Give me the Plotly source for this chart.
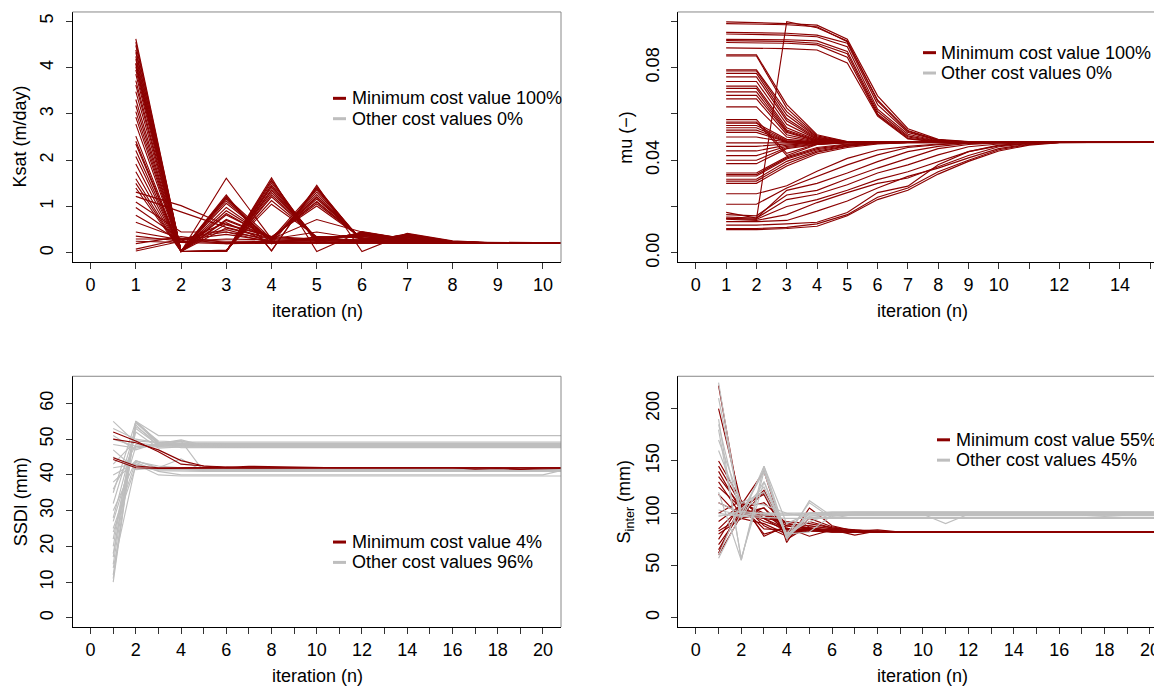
import plotly.graph_objects as go

RED = '#8B0000'
GREY = '#BEBEBE'
FONT = 'Liberation Sans, Arial, sans-serif'
FS = 18
PAGE_W, PAGE_H = 1162, 689
OFF = 8  # default body margin of the page
W, H = PAGE_W - OFF, PAGE_H - OFF

# ---------------- data ----------------
iter_11 = [1, 2, 3, 4, 5, 6, 7, 8, 9, 10, 11]
iter_16 = [1, 2, 3, 4, 5, 6, 7, 8, 9, 10, 11, 12, 13, 14, 15, 16]
iter_21 = [1, 2, 3, 4, 5, 6, 7, 8, 9, 10, 11, 12, 13, 14, 15, 16, 17, 18, 19, 20, 21]

# Ksat (m/day): every run ends on the minimum cost value
ksat_min = [
    [4.62, 0.03, 1.25, 0.04, 1.46, 0.03, 0.42, 0.26, 0.21, 0.21, 0.21],
    [4.48, 0.03, 1.22, 0.05, 1.43, 0.22, 0.41, 0.25, 0.21, 0.21, 0.21],
    [4.33, 0.03, 1.19, 0.20, 1.39, 0.24, 0.40, 0.25, 0.21, 0.21, 0.21],
    [4.18, 0.03, 1.16, 0.25, 1.36, 0.25, 0.39, 0.24, 0.21, 0.21, 0.21],
    [4.10, 0.03, 1.20, 0.30, 1.40, 0.26, 0.39, 0.24, 0.21, 0.21, 0.21],
    [4.02, 0.03, 1.12, 0.27, 1.31, 0.27, 0.38, 0.24, 0.21, 0.21, 0.21],
    [3.86, 0.03, 1.07, 0.29, 1.26, 0.28, 0.37, 0.24, 0.21, 0.21, 0.21],
    [3.62, 0.03, 0.98, 0.30, 1.21, 0.29, 0.35, 0.23, 0.21, 0.21, 0.21],
    [3.31, 0.03, 0.91, 0.31, 1.16, 0.30, 0.34, 0.23, 0.21, 0.21, 0.21],
    [2.93, 0.03, 0.82, 0.33, 1.11, 0.30, 0.33, 0.23, 0.21, 0.21, 0.21],
    [2.52, 0.03, 0.72, 0.34, 1.06, 0.31, 0.32, 0.22, 0.21, 0.21, 0.21],
    [2.35, 0.03, 0.85, 0.30, 1.20, 0.28, 0.36, 0.24, 0.21, 0.21, 0.21],
    [2.21, 0.03, 0.62, 0.35, 1.01, 0.31, 0.30, 0.22, 0.21, 0.21, 0.21],
    [1.92, 0.03, 0.54, 0.30, 0.72, 0.45, 0.30, 0.22, 0.21, 0.21, 0.21],
    [1.60, 0.03, 0.70, 0.32, 1.10, 0.30, 0.33, 0.23, 0.21, 0.21, 0.21],
    [4.55, 0.03, 0.03, 1.62, 0.03, 0.46, 0.30, 0.24, 0.21, 0.21, 0.21],
    [4.38, 0.03, 0.03, 1.58, 0.20, 0.45, 0.29, 0.23, 0.21, 0.21, 0.21],
    [4.24, 0.03, 0.03, 1.55, 0.24, 0.44, 0.28, 0.23, 0.21, 0.21, 0.21],
    [4.08, 0.03, 0.03, 1.51, 0.26, 0.43, 0.28, 0.23, 0.21, 0.21, 0.21],
    [3.95, 0.03, 0.03, 1.46, 0.28, 0.42, 0.27, 0.22, 0.21, 0.21, 0.21],
    [3.72, 0.03, 0.03, 1.41, 0.29, 0.41, 0.27, 0.22, 0.21, 0.21, 0.21],
    [3.48, 0.03, 0.03, 1.36, 0.30, 0.40, 0.26, 0.22, 0.21, 0.21, 0.21],
    [3.18, 0.03, 0.04, 1.30, 0.32, 0.38, 0.26, 0.22, 0.21, 0.21, 0.21],
    [3.05, 0.03, 0.03, 1.45, 0.30, 0.41, 0.27, 0.22, 0.21, 0.21, 0.21],
    [2.78, 0.03, 0.05, 1.21, 0.33, 0.36, 0.25, 0.22, 0.21, 0.21, 0.21],
    [2.41, 0.03, 0.05, 1.13, 0.34, 0.35, 0.25, 0.22, 0.21, 0.21, 0.21],
    [2.08, 0.03, 0.06, 1.05, 0.35, 0.33, 0.24, 0.22, 0.21, 0.21, 0.21],
    [1.75, 0.03, 0.03, 1.35, 0.30, 0.40, 0.27, 0.22, 0.21, 0.21, 0.21],
    [1.50, 0.03, 0.03, 1.25, 0.32, 0.38, 0.26, 0.22, 0.21, 0.21, 0.21],
    [1.40, 0.03, 1.61, 0.30, 0.28, 0.27, 0.25, 0.23, 0.21, 0.21, 0.21],
    [1.31, 1.02, 0.60, 0.35, 0.30, 0.28, 0.25, 0.22, 0.21, 0.21, 0.21],
    [1.22, 0.88, 0.55, 0.32, 0.30, 0.27, 0.24, 0.22, 0.21, 0.21, 0.21],
    [1.10, 0.45, 0.45, 0.30, 0.45, 0.30, 0.25, 0.22, 0.21, 0.21, 0.21],
    [0.98, 0.30, 0.50, 0.25, 0.30, 0.28, 0.24, 0.22, 0.21, 0.21, 0.21],
    [0.81, 0.25, 0.65, 0.20, 0.35, 0.25, 0.23, 0.22, 0.21, 0.21, 0.21],
    [0.66, 0.30, 0.45, 0.22, 0.30, 0.26, 0.24, 0.22, 0.21, 0.21, 0.21],
    [0.45, 0.28, 0.40, 0.25, 0.26, 0.25, 0.23, 0.22, 0.21, 0.21, 0.21],
    [0.36, 0.25, 0.30, 0.28, 0.25, 0.23, 0.22, 0.21, 0.21, 0.21, 0.21],
    [0.30, 0.30, 0.25, 0.25, 0.24, 0.23, 0.22, 0.21, 0.21, 0.21, 0.21],
    [0.20, 0.35, 0.22, 0.22, 0.22, 0.22, 0.21, 0.21, 0.21, 0.21, 0.21],
    [0.08, 0.30, 0.20, 0.22, 0.22, 0.21, 0.21, 0.21, 0.21, 0.21, 0.21],
    [0.04, 0.25, 0.22, 0.21, 0.21, 0.21, 0.21, 0.21, 0.21, 0.21, 0.21],
    [0.25, 0.22, 0.20, 0.21, 0.21, 0.21, 0.21, 0.21, 0.21, 0.21, 0.21],
]
ksat_other = []

# mu (-): every run ends on the minimum cost value
mu_min = [
    [0.0997, 0.0995, 0.0990, 0.0983, 0.0922, 0.0678, 0.0536, 0.0490, 0.0480, 0.0477, 0.0477, 0.0477, 0.0477, 0.0477, 0.0477, 0.0477],
    [0.0990, 0.0988, 0.0985, 0.0976, 0.0912, 0.0660, 0.0528, 0.0487, 0.0479, 0.0477, 0.0477, 0.0477, 0.0477, 0.0477, 0.0477, 0.0477],
    [0.0952, 0.0950, 0.0948, 0.0940, 0.0905, 0.0640, 0.0520, 0.0485, 0.0478, 0.0477, 0.0477, 0.0477, 0.0477, 0.0477, 0.0477, 0.0477],
    [0.0945, 0.0943, 0.0940, 0.0933, 0.0890, 0.0620, 0.0512, 0.0483, 0.0478, 0.0477, 0.0477, 0.0477, 0.0477, 0.0477, 0.0477, 0.0477],
    [0.0922, 0.0921, 0.0920, 0.0915, 0.0870, 0.0610, 0.0505, 0.0482, 0.0477, 0.0477, 0.0477, 0.0477, 0.0477, 0.0477, 0.0477, 0.0477],
    [0.0916, 0.0915, 0.0913, 0.0905, 0.0860, 0.0600, 0.0500, 0.0480, 0.0477, 0.0477, 0.0477, 0.0477, 0.0477, 0.0477, 0.0477, 0.0477],
    [0.0908, 0.0907, 0.0905, 0.0898, 0.0845, 0.0595, 0.0495, 0.0479, 0.0477, 0.0477, 0.0477, 0.0477, 0.0477, 0.0477, 0.0477, 0.0477],
    [0.0885, 0.0884, 0.0882, 0.0876, 0.0820, 0.0590, 0.0492, 0.0478, 0.0477, 0.0477, 0.0477, 0.0477, 0.0477, 0.0477, 0.0477, 0.0477],
    [0.0148, 0.0145, 0.0998, 0.0972, 0.0915, 0.0655, 0.0525, 0.0487, 0.0479, 0.0477, 0.0477, 0.0477, 0.0477, 0.0477, 0.0477, 0.0477],
    [0.0855, 0.0855, 0.0640, 0.0510, 0.0480, 0.0477, 0.0477, 0.0477, 0.0477, 0.0477, 0.0477, 0.0477, 0.0477, 0.0477, 0.0477, 0.0477],
    [0.0850, 0.0850, 0.0625, 0.0505, 0.0479, 0.0477, 0.0477, 0.0477, 0.0477, 0.0477, 0.0477, 0.0477, 0.0477, 0.0477, 0.0477, 0.0477],
    [0.0790, 0.0790, 0.0610, 0.0500, 0.0478, 0.0477, 0.0477, 0.0477, 0.0477, 0.0477, 0.0477, 0.0477, 0.0477, 0.0477, 0.0477, 0.0477],
    [0.0785, 0.0785, 0.0595, 0.0498, 0.0478, 0.0477, 0.0477, 0.0477, 0.0477, 0.0477, 0.0477, 0.0477, 0.0477, 0.0477, 0.0477, 0.0477],
    [0.0775, 0.0775, 0.0580, 0.0495, 0.0478, 0.0477, 0.0477, 0.0477, 0.0477, 0.0477, 0.0477, 0.0477, 0.0477, 0.0477, 0.0477, 0.0477],
    [0.0760, 0.0760, 0.0570, 0.0492, 0.0477, 0.0477, 0.0477, 0.0477, 0.0477, 0.0477, 0.0477, 0.0477, 0.0477, 0.0477, 0.0477, 0.0477],
    [0.0740, 0.0740, 0.0555, 0.0490, 0.0477, 0.0477, 0.0477, 0.0477, 0.0477, 0.0477, 0.0477, 0.0477, 0.0477, 0.0477, 0.0477, 0.0477],
    [0.0720, 0.0720, 0.0540, 0.0487, 0.0477, 0.0477, 0.0477, 0.0477, 0.0477, 0.0477, 0.0477, 0.0477, 0.0477, 0.0477, 0.0477, 0.0477],
    [0.0710, 0.0710, 0.0530, 0.0485, 0.0477, 0.0477, 0.0477, 0.0477, 0.0477, 0.0477, 0.0477, 0.0477, 0.0477, 0.0477, 0.0477, 0.0477],
    [0.0695, 0.0695, 0.0525, 0.0483, 0.0477, 0.0477, 0.0477, 0.0477, 0.0477, 0.0477, 0.0477, 0.0477, 0.0477, 0.0477, 0.0477, 0.0477],
    [0.0680, 0.0680, 0.0520, 0.0482, 0.0477, 0.0477, 0.0477, 0.0477, 0.0477, 0.0477, 0.0477, 0.0477, 0.0477, 0.0477, 0.0477, 0.0477],
    [0.0665, 0.0665, 0.0510, 0.0480, 0.0477, 0.0477, 0.0477, 0.0477, 0.0477, 0.0477, 0.0477, 0.0477, 0.0477, 0.0477, 0.0477, 0.0477],
    [0.0630, 0.0630, 0.0500, 0.0478, 0.0477, 0.0477, 0.0477, 0.0477, 0.0477, 0.0477, 0.0477, 0.0477, 0.0477, 0.0477, 0.0477, 0.0477],
    [0.0575, 0.0575, 0.0430, 0.0470, 0.0477, 0.0477, 0.0477, 0.0477, 0.0477, 0.0477, 0.0477, 0.0477, 0.0477, 0.0477, 0.0477, 0.0477],
    [0.0565, 0.0565, 0.0420, 0.0468, 0.0477, 0.0477, 0.0477, 0.0477, 0.0477, 0.0477, 0.0477, 0.0477, 0.0477, 0.0477, 0.0477, 0.0477],
    [0.0560, 0.0560, 0.0490, 0.0478, 0.0477, 0.0477, 0.0477, 0.0477, 0.0477, 0.0477, 0.0477, 0.0477, 0.0477, 0.0477, 0.0477, 0.0477],
    [0.0550, 0.0550, 0.0485, 0.0477, 0.0477, 0.0477, 0.0477, 0.0477, 0.0477, 0.0477, 0.0477, 0.0477, 0.0477, 0.0477, 0.0477, 0.0477],
    [0.0540, 0.0540, 0.0482, 0.0477, 0.0477, 0.0477, 0.0477, 0.0477, 0.0477, 0.0477, 0.0477, 0.0477, 0.0477, 0.0477, 0.0477, 0.0477],
    [0.0530, 0.0530, 0.0480, 0.0477, 0.0477, 0.0477, 0.0477, 0.0477, 0.0477, 0.0477, 0.0477, 0.0477, 0.0477, 0.0477, 0.0477, 0.0477],
    [0.0520, 0.0520, 0.0479, 0.0477, 0.0477, 0.0477, 0.0477, 0.0477, 0.0477, 0.0477, 0.0477, 0.0477, 0.0477, 0.0477, 0.0477, 0.0477],
    [0.0500, 0.0500, 0.0478, 0.0477, 0.0477, 0.0477, 0.0477, 0.0477, 0.0477, 0.0477, 0.0477, 0.0477, 0.0477, 0.0477, 0.0477, 0.0477],
    [0.0475, 0.0475, 0.0477, 0.0477, 0.0477, 0.0477, 0.0477, 0.0477, 0.0477, 0.0477, 0.0477, 0.0477, 0.0477, 0.0477, 0.0477, 0.0477],
    [0.0460, 0.0460, 0.0470, 0.0476, 0.0477, 0.0477, 0.0477, 0.0477, 0.0477, 0.0477, 0.0477, 0.0477, 0.0477, 0.0477, 0.0477, 0.0477],
    [0.0440, 0.0440, 0.0465, 0.0475, 0.0477, 0.0477, 0.0477, 0.0477, 0.0477, 0.0477, 0.0477, 0.0477, 0.0477, 0.0477, 0.0477, 0.0477],
    [0.0420, 0.0420, 0.0460, 0.0472, 0.0477, 0.0477, 0.0477, 0.0477, 0.0477, 0.0477, 0.0477, 0.0477, 0.0477, 0.0477, 0.0477, 0.0477],
    [0.0400, 0.0400, 0.0455, 0.0470, 0.0476, 0.0477, 0.0477, 0.0477, 0.0477, 0.0477, 0.0477, 0.0477, 0.0477, 0.0477, 0.0477, 0.0477],
    [0.0385, 0.0385, 0.0450, 0.0468, 0.0475, 0.0477, 0.0477, 0.0477, 0.0477, 0.0477, 0.0477, 0.0477, 0.0477, 0.0477, 0.0477, 0.0477],
    [0.0345, 0.0345, 0.0415, 0.0455, 0.0470, 0.0476, 0.0477, 0.0477, 0.0477, 0.0477, 0.0477, 0.0477, 0.0477, 0.0477, 0.0477, 0.0477],
    [0.0338, 0.0338, 0.0410, 0.0450, 0.0468, 0.0475, 0.0477, 0.0477, 0.0477, 0.0477, 0.0477, 0.0477, 0.0477, 0.0477, 0.0477, 0.0477],
    [0.0332, 0.0332, 0.0405, 0.0445, 0.0465, 0.0474, 0.0477, 0.0477, 0.0477, 0.0477, 0.0477, 0.0477, 0.0477, 0.0477, 0.0477, 0.0477],
    [0.0318, 0.0318, 0.0395, 0.0440, 0.0462, 0.0473, 0.0477, 0.0477, 0.0477, 0.0477, 0.0477, 0.0477, 0.0477, 0.0477, 0.0477, 0.0477],
    [0.0310, 0.0310, 0.0385, 0.0435, 0.0460, 0.0472, 0.0477, 0.0477, 0.0477, 0.0477, 0.0477, 0.0477, 0.0477, 0.0477, 0.0477, 0.0477],
    [0.0300, 0.0300, 0.0375, 0.0428, 0.0455, 0.0470, 0.0476, 0.0477, 0.0477, 0.0477, 0.0477, 0.0477, 0.0477, 0.0477, 0.0477, 0.0477],
    [0.0255, 0.0255, 0.0290, 0.0352, 0.0408, 0.0444, 0.0460, 0.0470, 0.0475, 0.0477, 0.0477, 0.0477, 0.0477, 0.0477, 0.0477, 0.0477],
    [0.0210, 0.0210, 0.0280, 0.0330, 0.0380, 0.0423, 0.0455, 0.0467, 0.0474, 0.0477, 0.0477, 0.0477, 0.0477, 0.0477, 0.0477, 0.0477],
    [0.0175, 0.0150, 0.0270, 0.0300, 0.0345, 0.0394, 0.0437, 0.0460, 0.0472, 0.0476, 0.0477, 0.0477, 0.0477, 0.0477, 0.0477, 0.0477],
    [0.0165, 0.0160, 0.0250, 0.0270, 0.0320, 0.0366, 0.0408, 0.0450, 0.0468, 0.0475, 0.0477, 0.0477, 0.0477, 0.0477, 0.0477, 0.0477],
    [0.0155, 0.0150, 0.0230, 0.0253, 0.0294, 0.0345, 0.0380, 0.0423, 0.0458, 0.0470, 0.0476, 0.0477, 0.0477, 0.0477, 0.0477, 0.0477],
    [0.0150, 0.0145, 0.0200, 0.0230, 0.0270, 0.0316, 0.0350, 0.0394, 0.0437, 0.0465, 0.0474, 0.0477, 0.0477, 0.0477, 0.0477, 0.0477],
    [0.0145, 0.0140, 0.0165, 0.0217, 0.0260, 0.0300, 0.0323, 0.0370, 0.0420, 0.0458, 0.0472, 0.0477, 0.0477, 0.0477, 0.0477, 0.0477],
    [0.0135, 0.0135, 0.0140, 0.0180, 0.0224, 0.0280, 0.0330, 0.0366, 0.0410, 0.0450, 0.0470, 0.0477, 0.0477, 0.0477, 0.0477, 0.0477],
    [0.0120, 0.0120, 0.0125, 0.0132, 0.0174, 0.0260, 0.0288, 0.0380, 0.0437, 0.0462, 0.0473, 0.0477, 0.0477, 0.0477, 0.0477, 0.0477],
    [0.0105, 0.0105, 0.0110, 0.0125, 0.0165, 0.0240, 0.0280, 0.0350, 0.0400, 0.0445, 0.0468, 0.0477, 0.0477, 0.0477, 0.0477, 0.0477],
    [0.0100, 0.0100, 0.0105, 0.0115, 0.0160, 0.0230, 0.0270, 0.0340, 0.0395, 0.0440, 0.0465, 0.0476, 0.0477, 0.0477, 0.0477, 0.0477],
]
mu_other = []

# SSDI (mm)
ssdi_min = [
    [52.0, 49.5, 46.5, 43.0, 42.5, 42.2, 42.0, 42.0, 42.0, 42.0, 42.0, 42.0, 42.0, 42.0, 42.0, 42.0, 41.6, 41.8, 41.5, 42.0, 42.0],
    [50.0, 49.0, 47.0, 44.0, 42.5, 42.0, 42.0, 42.0, 42.0, 42.0, 42.0, 42.0, 42.0, 42.0, 42.0, 42.0, 42.0, 41.9, 42.0, 42.0, 42.0],
    [44.8, 42.5, 42.0, 42.0, 42.0, 42.1, 42.4, 42.3, 42.0, 42.0, 42.0, 42.0, 42.0, 42.0, 42.0, 42.0, 42.0, 42.0, 41.6, 41.8, 41.8],
    [44.3, 42.0, 41.8, 41.8, 41.8, 41.8, 41.9, 42.0, 42.0, 42.0, 42.0, 42.0, 42.0, 42.0, 42.0, 42.0, 42.0, 42.0, 42.0, 42.0, 42.0],
]
ssdi_other = [
    [10.0, 55.0, 49.0, 48.5, 48.5, 48.5, 48.5, 48.5, 48.5, 48.5, 48.5, 48.5, 48.5, 48.5, 48.5, 48.5, 48.5, 48.5, 48.5, 48.5, 48.5],
    [11.0, 55.0, 49.2, 48.7, 48.7, 48.7, 48.7, 48.7, 48.7, 48.7, 48.7, 48.7, 48.7, 48.7, 48.7, 48.7, 48.7, 48.7, 48.7, 48.7, 48.7],
    [12.0, 55.0, 48.5, 48.8, 48.8, 48.8, 48.8, 48.8, 48.8, 48.8, 48.8, 48.8, 48.8, 48.8, 48.8, 48.8, 48.8, 48.8, 48.8, 48.8, 48.8],
    [14.0, 43.0, 41.5, 41.3, 41.3, 41.3, 41.3, 41.3, 41.3, 41.3, 41.3, 41.3, 41.3, 41.3, 41.3, 41.3, 41.3, 41.3, 41.3, 41.3, 41.3],
    [15.0, 54.5, 49.5, 49.2, 49.2, 49.2, 49.2, 49.2, 49.2, 49.2, 49.2, 49.2, 49.2, 49.2, 49.2, 49.2, 49.2, 49.2, 49.2, 49.2, 49.2],
    [17.0, 54.8, 48.6, 48.4, 48.4, 48.4, 48.4, 48.4, 48.4, 48.4, 48.4, 48.4, 48.4, 48.4, 48.4, 48.4, 48.4, 48.4, 48.4, 48.4, 48.4],
    [18.0, 54.0, 48.0, 48.2, 48.2, 48.2, 48.2, 48.2, 48.2, 48.2, 48.2, 48.2, 48.2, 48.2, 48.2, 48.2, 48.2, 48.2, 48.2, 48.2, 48.2],
    [22.0, 53.5, 48.8, 49.8, 48.3, 48.3, 48.3, 48.3, 48.3, 48.3, 48.3, 48.3, 48.3, 48.3, 48.3, 48.3, 48.3, 48.3, 48.3, 48.3, 48.3],
    [24.0, 42.5, 41.2, 41.0, 41.0, 41.0, 41.0, 41.0, 41.0, 41.0, 41.0, 41.0, 41.0, 41.0, 41.0, 41.0, 41.0, 41.0, 41.0, 41.0, 41.0],
    [27.0, 48.0, 47.8, 47.7, 47.7, 47.7, 47.7, 47.7, 47.7, 47.7, 47.7, 47.7, 47.7, 47.7, 47.7, 47.7, 47.7, 47.7, 47.7, 47.7, 47.7],
    [28.0, 52.0, 47.5, 47.8, 47.8, 47.8, 47.8, 47.8, 47.8, 47.8, 47.8, 47.8, 47.8, 47.8, 47.8, 47.8, 47.8, 47.8, 47.8, 47.8, 47.8],
    [32.0, 53.0, 48.3, 48.1, 48.1, 48.1, 48.1, 48.1, 48.1, 48.1, 48.1, 48.1, 48.1, 48.1, 48.1, 48.1, 48.1, 48.1, 48.1, 48.1, 48.1],
    [35.0, 55.0, 51.0, 51.0, 51.0, 51.0, 51.0, 51.0, 51.0, 51.0, 51.0, 51.0, 51.0, 51.0, 51.0, 51.0, 51.0, 51.0, 51.0, 51.0, 51.0],
    [38.0, 44.0, 42.0, 41.5, 41.2, 41.2, 41.2, 41.2, 41.2, 41.2, 41.2, 41.2, 41.2, 41.2, 41.2, 41.2, 41.2, 41.2, 41.2, 41.2, 41.2],
    [40.0, 43.5, 41.0, 40.0, 40.0, 40.0, 40.0, 40.0, 40.0, 40.0, 40.0, 40.0, 40.0, 40.0, 40.0, 40.0, 40.0, 40.0, 40.0, 40.0, 41.5],
    [42.0, 43.0, 40.0, 39.7, 39.7, 39.7, 39.7, 39.7, 39.7, 39.7, 39.7, 39.7, 39.7, 39.7, 39.7, 39.7, 39.7, 39.7, 39.7, 39.7, 39.7],
    [45.0, 42.0, 41.5, 41.5, 41.5, 41.5, 41.5, 41.5, 41.5, 41.5, 41.5, 41.5, 41.5, 41.5, 41.5, 41.5, 41.5, 41.5, 41.5, 41.5, 41.5],
    [47.0, 41.5, 42.0, 44.5, 41.0, 41.0, 41.0, 41.0, 41.0, 41.0, 41.0, 41.0, 41.0, 41.0, 41.0, 41.0, 41.0, 41.0, 41.0, 41.0, 41.0],
    [50.0, 48.0, 48.5, 48.2, 48.2, 48.2, 48.2, 48.2, 48.2, 48.2, 48.2, 48.2, 48.2, 48.2, 48.2, 48.2, 48.2, 48.2, 48.2, 48.2, 48.2],
    [53.0, 50.0, 49.0, 48.6, 48.6, 48.6, 48.6, 48.6, 48.6, 48.6, 48.6, 48.6, 48.6, 48.6, 48.6, 48.6, 48.6, 48.6, 48.6, 48.6, 48.6],
    [55.0, 49.0, 48.2, 48.0, 48.0, 48.0, 48.0, 48.0, 48.0, 48.0, 48.0, 48.0, 48.0, 48.0, 48.0, 48.0, 48.0, 48.0, 48.0, 48.0, 48.0],
    [48.5, 47.5, 48.5, 48.4, 48.4, 48.4, 48.4, 48.4, 48.4, 48.4, 48.4, 48.4, 48.4, 48.4, 48.4, 48.4, 48.4, 48.4, 48.4, 48.4, 48.4],
    [51.0, 47.0, 49.0, 48.9, 48.9, 48.9, 48.9, 48.9, 48.9, 48.9, 48.9, 48.9, 48.9, 48.9, 48.9, 48.9, 48.9, 48.9, 48.9, 48.9, 48.9],
    [30.0, 44.0, 41.8, 42.0, 42.0, 42.0, 42.0, 42.0, 42.0, 42.0, 42.0, 42.0, 42.0, 42.0, 42.0, 42.0, 42.0, 42.0, 42.0, 42.0, 42.0],
    [25.0, 43.8, 42.5, 42.0, 41.8, 41.8, 41.8, 41.8, 41.8, 41.8, 41.8, 41.8, 41.8, 41.8, 41.8, 41.8, 41.8, 41.8, 41.8, 41.8, 41.8],
    [20.0, 55.0, 49.0, 47.6, 47.6, 47.6, 47.6, 47.6, 47.6, 47.6, 47.6, 47.6, 47.6, 47.6, 47.6, 47.6, 47.6, 47.6, 47.6, 47.6, 47.6],
    [36.0, 48.5, 48.0, 49.5, 48.0, 47.9, 47.9, 47.9, 47.9, 47.9, 47.9, 47.9, 47.9, 47.9, 47.9, 47.9, 47.9, 47.9, 47.9, 47.9, 47.9],
    [43.0, 49.5, 49.0, 49.5, 41.0, 41.0, 41.0, 41.0, 41.0, 41.0, 41.0, 41.0, 41.0, 41.0, 41.0, 41.0, 41.0, 41.0, 41.0, 41.0, 41.0],
]

# S_inter (mm)
sinter_min = [
    [222, 100, 105, 85, 85, 84, 83, 82, 82, 82, 82, 82, 82, 82, 82, 82, 82, 82, 82, 82, 82],
    [200, 110, 98, 90, 88, 85, 82, 82, 82, 82, 82, 82, 82, 82, 82, 82, 82, 82, 82, 82, 82],
    [150, 112, 95, 92, 90, 86, 84, 83, 82, 82, 82, 82, 82, 82, 82, 82, 82, 82, 82, 82, 82],
    [145, 108, 140, 72, 105, 88, 83, 84, 82, 82, 82, 82, 82, 82, 82, 82, 82, 82, 82, 82, 82],
    [140, 102, 122, 78, 92, 86, 82, 82, 82, 82, 82, 82, 82, 82, 82, 82, 82, 82, 82, 82, 82],
    [135, 106, 118, 76, 95, 87, 83, 82, 82, 82, 82, 82, 82, 82, 82, 82, 82, 82, 82, 82, 82],
    [130, 98, 120, 75, 88, 85, 82, 82, 82, 82, 82, 82, 82, 82, 82, 82, 82, 82, 82, 82, 82],
    [125, 105, 110, 90, 86, 83, 82, 82, 82, 82, 82, 82, 82, 82, 82, 82, 82, 82, 82, 82, 82],
    [118, 95, 100, 88, 85, 84, 79, 83, 82, 82, 82, 82, 82, 82, 82, 82, 82, 82, 82, 82, 82],
    [110, 100, 95, 85, 84, 83, 82, 82, 82, 82, 82, 82, 82, 82, 82, 82, 82, 82, 82, 82, 82],
    [100, 112, 78, 88, 85, 83, 82, 82, 82, 82, 82, 82, 82, 82, 82, 82, 82, 82, 82, 82, 82],
    [92, 108, 80, 86, 78, 84, 82, 82, 82, 82, 82, 82, 82, 82, 82, 82, 82, 82, 82, 82, 82],
    [85, 106, 85, 84, 84, 83, 82, 82, 82, 82, 82, 82, 82, 82, 82, 82, 82, 82, 82, 82, 82],
    [83, 96, 98, 88, 86, 82, 82, 82, 82, 82, 82, 82, 82, 82, 82, 82, 82, 82, 82, 82, 82],
    [80, 95, 90, 80, 83, 82, 82, 82, 82, 82, 82, 82, 82, 82, 82, 82, 82, 82, 82, 82, 82],
    [75, 110, 88, 78, 85, 82, 82, 82, 82, 82, 82, 82, 82, 82, 82, 82, 82, 82, 82, 82, 82],
    [70, 100, 95, 82, 86, 84, 82, 82, 82, 82, 82, 82, 82, 82, 82, 82, 82, 82, 82, 82, 82],
    [65, 104, 92, 85, 84, 83, 82, 82, 82, 82, 82, 82, 82, 82, 82, 82, 82, 82, 82, 82, 82],
    [62, 110, 100, 84, 83, 82, 82, 82, 82, 82, 82, 82, 82, 82, 82, 82, 82, 82, 82, 82, 82],
    [60, 98, 105, 80, 85, 83, 84, 82, 82, 82, 82, 82, 82, 82, 82, 82, 82, 82, 82, 82, 82],
]
sinter_other = [
    [225, 95, 145, 78, 97, 100, 101, 101, 101, 101, 101, 101, 101, 101, 101, 101, 101, 101, 101, 101, 101],
    [210, 100, 142, 76, 112, 97, 99, 99, 99, 99, 99, 99, 99, 99, 99, 99, 99, 99, 99, 99, 99],
    [190, 55, 140, 75, 100, 98, 98, 98, 98, 98, 98, 98, 98, 98, 98, 98, 98, 98, 98, 98, 98],
    [185, 95, 130, 80, 110, 95, 99, 100, 100, 100, 100, 100, 100, 100, 100, 100, 100, 100, 100, 100, 100],
    [180, 57, 130, 77, 95, 100, 100, 100, 100, 100, 100, 100, 100, 100, 100, 100, 100, 100, 100, 100, 100],
    [170, 110, 120, 80, 92, 99, 99, 99, 99, 99, 99, 99, 99, 99, 99, 99, 99, 99, 99, 99, 99],
    [160, 104, 125, 80, 82, 98, 98, 98, 98, 98, 98, 98, 98, 98, 98, 98, 98, 98, 98, 98, 98],
    [120, 55, 145, 90, 100, 101, 101, 101, 101, 101, 101, 101, 101, 101, 101, 101, 101, 101, 101, 101, 101],
    [110, 100, 100, 100, 100, 100, 100, 100, 100, 100, 100, 100, 100, 100, 100, 100, 100, 100, 100, 100, 100],
    [103, 98, 100, 99, 99, 99, 99, 99, 99, 99, 99, 99, 99, 99, 99, 99, 99, 99, 99, 99, 99],
    [100, 97, 96, 95, 95, 95, 95, 95, 95, 95, 95, 95, 95, 95, 95, 95, 95, 95, 95, 95, 95],
    [97, 102, 99, 98, 100, 99, 99, 99, 99, 99, 90, 99, 99, 99, 99, 99, 99, 99, 99, 99, 99],
    [98, 98, 98, 98, 98, 98, 98, 98, 98, 98, 98, 98, 98, 98, 98, 98, 98, 97, 98, 98, 98],
    [60, 110, 108, 100, 96, 96, 96, 96, 96, 96, 96, 96, 96, 96, 96, 96, 96, 96, 96, 96, 96],
    [57, 100, 140, 78, 100, 101, 101, 101, 101, 101, 101, 101, 101, 101, 101, 101, 101, 101, 101, 101, 101],
]

min_pct = [100, 100, 4, 55]
other_pct = [0, 0, 96, 45]
y_titles = ['Ksat (m/day)', 'mu (\u2212)', 'SSDI (mm)', 'S<sub>inter</sub> (mm)']


# ---------------- layout helpers (page pixels -> paper fractions) ----------------
def px_x(v):
    return (v - OFF) / W


def px_y(v):
    return 1 - (v - OFF) / H


LEFT = (72.5, 561)
RIGHT = (677.7, PAGE_W)
TOP = (12, 264)
BOTTOM = (379, 631.7)

panels = [
    dict(iters=iter_11, best=ksat_min, other=ksat_other, xp=LEFT, yp=TOP,
         xr=[-0.4, 10.4], yr=[-0.2, 5.2],
         xt=list(range(0, 11)), xl=[str(i) for i in range(0, 11)],
         yt=[0, 1, 2, 3, 4, 5], yl=['0', '1', '2', '3', '4', '5'],
         grey_on_top=False, leg=(333, 350, 99)),
    dict(iters=iter_16, best=mu_min, other=mu_other, xp=RIGHT, yp=TOP,
         xr=[-0.6, 15.39], yr=[-0.004, 0.104],
         xt=list(range(0, 16)),
         xl=['0', '1', '2', '3', '4', '5', '6', '7', '8', '9', '10', '', '12', '', '14', ''],
         yt=[0, 0.02, 0.04, 0.06, 0.08, 0.10], yl=['0.00', '', '0.04', '', '0.08', ''],
         grey_on_top=False, leg=(923, 939, 53)),
    dict(iters=iter_21, best=ssdi_min, other=ssdi_other, xp=LEFT, yp=BOTTOM,
         xr=[-0.8, 20.8], yr=[-2.6, 67.6],
         xt=list(range(0, 21)), xl=[str(i) if i % 2 == 0 else '' for i in range(0, 21)],
         yt=[0, 10, 20, 30, 40, 50, 60], yl=['0', '10', '20', '30', '40', '50', '60'],
         grey_on_top=False, leg=(333, 350, 546)),
    dict(iters=iter_21, best=sinter_min, other=sinter_other, xp=RIGHT, yp=BOTTOM,
         xr=[-0.8, 20.53], yr=[-9, 231],
         xt=list(range(0, 21)), xl=[str(i) if i % 2 == 0 else '' for i in range(0, 21)],
         yt=[0, 50, 100, 150, 200], yl=['0', '50', '100', '150', '200'],
         grey_on_top=True, leg=(937, 954, 443)),
]

fig = go.Figure()
shapes = []
annotations = []
txt_font = dict(family=FONT, size=FS, color='black')

for k, p in enumerate(panels):
    sfx = '' if k == 0 else str(k + 1)
    xa, ya = 'x' + sfx, 'y' + sfx

    groups = [(p['other'], GREY), (p['best'], RED)]
    if p['grey_on_top']:
        groups = groups[::-1]
    for runs, col in groups:
        for run in runs:
            fig.add_trace(go.Scatter(x=p['iters'], y=run, mode='lines',
                                     line=dict(color=col, width=1.15),
                                     xaxis=xa, yaxis=ya, showlegend=False,
                                     hoverinfo='skip'))

    common = dict(showgrid=False, zeroline=False, ticks='outside', ticklen=6,
                  tickwidth=1, tickcolor='#333333', showline=True,
                  linecolor='black', linewidth=1, fixedrange=True,
                  tickfont=txt_font)
    x0p, x1p = p['xp']
    y0p, y1p = p['yp']
    fig.update_layout(**{
        'xaxis' + sfx: dict(domain=[px_x(x0p), min(1.0, px_x(x1p))], range=p['xr'],
                            anchor=ya, tickmode='array', tickvals=p['xt'],
                            ticktext=p['xl'], **common),
        'yaxis' + sfx: dict(domain=[px_y(y1p), px_y(y0p)], range=p['yr'], anchor=xa,
                            tickmode='array', tickvals=p['yt'], ticktext=p['yl'],
                            tickangle=-90, ticklabelstandoff=5, **common),
    })

    # grey box top / right
    shapes.append(dict(type='line', xref='paper', yref='paper',
                       x0=px_x(x0p), x1=min(1.0, px_x(x1p)), y0=px_y(y0p), y1=px_y(y0p),
                       line=dict(color='#888888', width=1)))
    if x1p < PAGE_W:
        shapes.append(dict(type='line', xref='paper', yref='paper',
                           x0=px_x(x1p), x1=px_x(x1p), y0=px_y(y1p), y1=px_y(y0p),
                           line=dict(color='#888888', width=1)))

    # axis titles
    annotations.append(dict(text='iteration (n)', xref='paper', yref='paper',
                            x=px_x(x0p + 245), y=px_y(y1p + 49), showarrow=False,
                            xanchor='center', yanchor='middle', font=txt_font))
    annotations.append(dict(text=y_titles[k], xref='paper', yref='paper',
                            x=px_x(x0p - 52), y=px_y((y0p + y1p) / 2), textangle=-90,
                            showarrow=False, xanchor='center', yanchor='middle',
                            font=txt_font))

    # legend (R style: short line key + text)
    kx, tx, ty = p['leg']
    for j, (lab, col) in enumerate([('Minimum cost value %d%%' % min_pct[k], RED),
                                    ('Other cost values %d%%' % other_pct[k], GREY)]):
        yy = ty + 20.5 * j
        shapes.append(dict(type='line', xref='paper', yref='paper',
                           x0=px_x(kx), x1=px_x(kx + 13), y0=px_y(yy), y1=px_y(yy),
                           line=dict(color=col, width=3)))
        annotations.append(dict(text=lab, xref='paper', yref='paper',
                                x=px_x(tx), y=px_y(yy), showarrow=False,
                                xanchor='left', yanchor='middle', font=txt_font))

fig.update_layout(width=W, height=H, margin=dict(l=0, r=0, t=0, b=0),
                  paper_bgcolor='white', plot_bgcolor='white',
                  font=txt_font, shapes=shapes, annotations=annotations,
                  showlegend=False)

fig.write_html('out.html')
